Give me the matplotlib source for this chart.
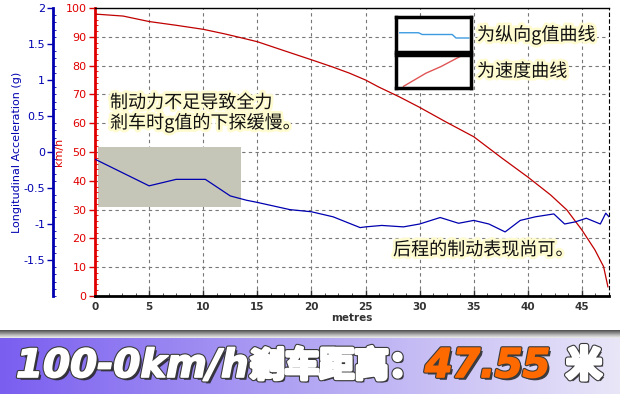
import numpy as np
import matplotlib
matplotlib.use("Agg")
import matplotlib.pyplot as plt
from matplotlib.patches import Rectangle
from matplotlib.ticker import MultipleLocator
from matplotlib.colors import LinearSegmentedColormap
import matplotlib.patheffects as pe

plt.rcParams['font.family'] = ['DejaVu Sans', 'Noto Sans CJK SC']

# ---- data ----
accel_x = [0, 5, 7.5, 10.2, 12.5, 14, 15, 18, 20, 22, 24.5, 25, 26.5, 28.5, 30,
           31.9, 33.6, 35, 36.4, 37.9, 39.3, 40.7, 42.4, 43.4, 44.4, 45.4, 46.7, 47.2, 47.5]
accel_g = [-0.10, -0.47, -0.38, -0.38, -0.61, -0.67, -0.70, -0.80, -0.83, -0.90, -1.05, -1.04, -1.02, -1.04, -1.00,
           -0.91, -0.99, -0.95, -1.00, -1.11, -0.95, -0.90, -0.86, -1.00, -0.97, -0.92, -1.00, -0.85, -0.90]
speed_x = [0, 2.6, 5, 7.5, 10, 12, 13.35, 15, 17.3, 20.1, 21.9, 23.5, 25, 26.2, 28.1, 30, 32.4, 35, 37.6,
           40, 42.1, 43.6, 45, 46.2, 47, 47.4]
speed_kmh = [97.9, 97.2, 95.3, 94.0, 92.6, 91.0, 89.8, 88.3, 85.4, 81.9, 79.6, 77.4, 75, 72.6, 69.2, 65.5, 60.5, 55.3, 47.9,
             41.3, 35.1, 29.9, 22.9, 16, 10.2, 3.2]
x_ticks = [0, 5, 10, 15, 20, 25, 30, 35, 40, 45]
speed_ticks = [0, 10, 20, 30, 40, 50, 60, 70, 80, 90, 100]
accel_ticks = [-1.5, -1, -0.5, 0, 0.5, 1, 1.5, 2]
accel_labels = ['-1.5', '-1', '-0.5', '0', '0.5', '1', '1.5', '2']
highlight_x = (0.3, 13.45)
highlight_speed = (31.0, 51.8)
note1 = "制动力不足导致全力\n剎车时g值的下探缓慢。"
note2 = "后程的制动表现尚可。"
legend_labels = ["为纵向g值曲线", "为速度曲线"]
title_a = "100-0km/h"
title_b = "剎车距离："
title_value = "47.55"
title_unit = "米"

W, H = 620, 394
fig = plt.figure(figsize=(W / 100, H / 100), dpi=100)
fig.patch.set_facecolor('white')

def fx(px):
    return px / W

def fy(py):
    return 1 - py / H

RED = '#e00000'
BLUE = '#0000b0'

ax = fig.add_axes([fx(95), fy(296), fx(609) - fx(95), fy(8) - fy(296)])
ax.set_xlim(0, 47.5)
ax.set_ylim(0, 100)
ax.set_facecolor('white')

for xv in x_ticks[1:]:
    ax.axvline(xv, color='#777777', lw=0.8, ls=(0, (3, 3)), zorder=0)
for yv in speed_ticks[1:-1]:
    ax.axhline(yv, color='#777777', lw=0.8, ls=(0, (3, 3)), zorder=0)

ax.add_patch(Rectangle((highlight_x[0], highlight_speed[0]), highlight_x[1] - highlight_x[0],
                       highlight_speed[1] - highlight_speed[0], facecolor='#c6c6b8', edgecolor='none', zorder=1))

ax.plot(speed_x, speed_kmh, color='#c00000', lw=0.9, zorder=3)

ax.set_xticks(x_ticks)
ax.xaxis.set_minor_locator(MultipleLocator(1.25))
ax.set_yticks(speed_ticks)
ax.yaxis.set_minor_locator(MultipleLocator(2))
ax.tick_params(axis='x', colors='#333333', labelsize=7.5, length=4, width=1, direction='in', pad=4)
ax.tick_params(axis='x', which='minor', length=2, direction='in', color='#333333')
ax.tick_params(axis='y', colors=RED, labelsize=8, length=4, width=1, direction='out', pad=2)
ax.tick_params(axis='y', which='minor', length=2, direction='in', color=RED)
for lab in ax.get_xticklabels():
    lab.set_fontweight('bold')
ax.spines['left'].set_color(RED)
ax.spines['left'].set_linewidth(2)
ax.spines['bottom'].set_color('black')
ax.spines['bottom'].set_linewidth(2)
ax.spines['top'].set_color('black')
ax.spines['top'].set_linewidth(1)
ax.spines['right'].set_color('black')
ax.spines['right'].set_linestyle((0, (3, 3)))
ax.spines['right'].set_linewidth(0.8)
ax.set_xlabel('metres', fontsize=7.5, color='#333333', labelpad=1, fontweight='bold')
ax.set_ylabel('km/h', fontsize=8, color=RED, labelpad=1)

ax2 = ax.twinx()
ax2.set_ylim(-2, 2)
ax2.plot(accel_x, accel_g, color=BLUE, lw=0.9, zorder=4)
ax2.yaxis.tick_left()
ax2.yaxis.set_label_position('left')
ax2.spines['left'].set_visible(True)
ax2.spines['left'].set_position(('outward', 30))
ax2.spines['left'].set_color(BLUE)
ax2.spines['left'].set_linewidth(2)
ax2.spines['right'].set_visible(False)
ax2.spines['top'].set_visible(False)
ax2.spines['bottom'].set_visible(False)
ax2.set_yticks(accel_ticks)
ax2.set_yticklabels(accel_labels)
ax2.yaxis.set_minor_locator(MultipleLocator(0.1))
ax2.tick_params(axis='y', colors=BLUE, labelsize=8, length=4, width=1, direction='out', pad=2)
ax2.tick_params(axis='y', which='minor', length=2, direction='in', color=BLUE)
ax2.set_ylabel('Longitudinal Acceleration (g)', fontsize=8, color=BLUE, labelpad=1)

glow = [pe.withStroke(linewidth=4, foreground='#fffbd0')]
fig.text(fx(110), fy(113), note1, fontsize=13, color='#111111', family=['Noto Sans CJK SC'],
         va='center', ha='left', linespacing=1.05, path_effects=glow)
fig.text(fx(393), fy(250), note2, fontsize=13, color='#111111', family=['Noto Sans CJK SC'],
         va='center', ha='left', path_effects=glow)

boxes = [(396, 17, 471, 52), (396, 55, 471, 88)]
for i, (x0, y0, x1, y1) in enumerate(boxes):
    lax = fig.add_axes([fx(x0), fy(y1), fx(x1) - fx(x0), fy(y0) - fy(y1)])
    lax.set_xlim(0, 1)
    lax.set_ylim(0, 1)
    lax.set_xticks([])
    lax.set_yticks([])
    for s in lax.spines.values():
        s.set_linewidth(2.5)
        s.set_color('black')
    if i == 0:
        lax.plot([0.05, 0.3, 0.35, 0.75, 0.8, 0.97], [0.55, 0.55, 0.5, 0.5, 0.4, 0.4], color='#3c9be0', lw=1)
    else:
        lax.plot([0.1, 0.4, 0.6, 0.85], [0.05, 0.45, 0.65, 0.95], color='#e05555', lw=1)
    fig.text(fx(477), fy((y0 + y1) / 2), legend_labels[i], fontsize=13, color='#111111',
             family=['Noto Sans CJK SC'], va='center', ha='left', path_effects=glow)

sax = fig.add_axes([0, fy(338), 1, fy(330) - fy(338)])
sax.imshow(np.linspace(1, 0, 8).reshape(-1, 1) * np.ones((1, 2)), cmap='Greys', aspect='auto',
           extent=(0, 1, 0, 1), vmin=-0.3, vmax=1.3)
sax.axis('off')
bax = fig.add_axes([0, 0, 1, fy(338)])
grad = np.linspace(0, 1, 256).reshape(1, -1)
cm = LinearSegmentedColormap.from_list('b', ['#7a5ef0', '#b3a6f3', '#e9e6f8'])
bax.imshow(grad, cmap=cm, aspect='auto', extent=(0, 1, 0, 1))
bax.axis('off')

def title_fx(fill, thick=1.2):
    return [pe.withSimplePatchShadow(offset=(2, -2), shadow_rgbFace='#222222', alpha=0.85),
            pe.withStroke(linewidth=thick + 1.6, foreground='#3a3a3a'),
            pe.withStroke(linewidth=thick, foreground=fill), pe.Normal()]

fig.text(fx(16), fy(366), title_a, fontsize=28, color='white', fontweight='heavy', style='italic',
         va='center', ha='left', path_effects=title_fx('white'))
fig.text(fx(250), fy(366), title_b, fontsize=25, color='white', fontweight='heavy', style='italic',
         family=['Noto Sans CJK SC'], va='center', ha='left', path_effects=title_fx('white', 2.6))
fig.text(fx(425), fy(366), title_value, fontsize=28.5, color='#ff6a00', fontweight='heavy', style='italic',
         va='center', ha='left', path_effects=title_fx('#ff6a00'))
fig.text(fx(566), fy(366), title_unit, fontsize=26, color='white', fontweight='heavy', style='italic',
         family=['Noto Sans CJK SC'], va='center', ha='left', path_effects=title_fx('white', 2.6))

fig.savefig('out.png', dpi=100)
